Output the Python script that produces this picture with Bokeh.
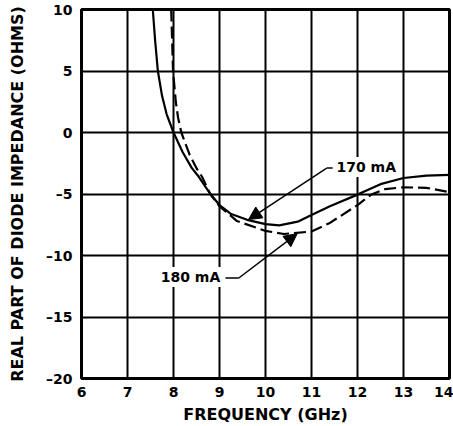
from bokeh.plotting import figure
from bokeh.models import Arrow, NormalHead, Label, FixedTicker, Title
from bokeh.embed import file_html
from bokeh.resources import INLINE

# Data
freq_170 = [7.55, 7.60, 7.66, 7.75, 7.85, 8.00, 8.20, 8.40, 8.55, 8.80, 9.00, 9.24, 9.60, 10.00, 10.30, 10.70, 11.00, 11.40, 12.00, 12.50, 13.00, 13.50, 14.00]
ohm_170 = [10.0, 7.5, 5.0, 3.0, 1.5, 0.0, -1.6, -2.9, -3.6, -5.0, -5.9, -6.6, -7.1, -7.45, -7.55, -7.25, -6.7, -6.0, -5.05, -4.2, -3.7, -3.5, -3.45]

freq_180 = [7.95, 7.97, 7.99, 8.05, 8.10, 8.17, 8.35, 8.50, 8.62, 8.80, 9.00, 9.38, 10.00, 10.40, 11.00, 11.40, 12.00, 12.30, 12.60, 13.00, 13.50, 14.00]
ohm_180 = [10.0, 7.5, 5.0, 2.5, 1.2, 0.0, -1.8, -2.9, -3.6, -5.0, -6.0, -7.2, -8.0, -8.25, -8.05, -7.35, -5.9, -5.05, -4.6, -4.45, -4.5, -4.85]

x_ticks = [6, 7, 8, 9, 10, 11, 12, 13, 14]
y_ticks = [10, 5, 0, -5, -10, -15, -20]
y_tick_labels = {10: "10", 5: "5", 0: "0", -5: "–5", -10: "–10", -15: "–15", -20: "–20"}

x_title = "FREQUENCY (GHz)"
y_title = "REAL PART OF DIODE IMPEDANCE (OHMS)"

FONT = "DejaVu Sans"

p = figure(width=453, height=426, x_range=(6, 14), y_range=(-20, 10),
           output_backend="svg", toolbar_location=None,
           min_border_left=0, min_border_right=4, min_border_top=9, min_border_bottom=0)

p.background_fill_color = "white"
p.border_fill_color = "white"
p.outline_line_color = "black"
p.outline_line_width = 3

p.xaxis.ticker = FixedTicker(ticks=x_ticks)
p.yaxis.ticker = FixedTicker(ticks=y_ticks)
p.yaxis.major_label_overrides = y_tick_labels

for ax in (p.xaxis, p.yaxis):
    ax.axis_line_color = None
    ax.major_tick_line_color = None
    ax.minor_tick_line_color = None
    ax.major_tick_out = 0
    ax.major_tick_in = 0
    ax.major_label_text_font = FONT
    ax.major_label_text_font_style = "bold"
    ax.major_label_text_font_size = "14px"
    ax.major_label_text_color = "black"
    ax.axis_label_text_font = FONT
    ax.axis_label_text_font_style = "bold"
    ax.axis_label_text_font_size = "16px"
    ax.axis_label_text_color = "black"

p.xaxis.axis_label = x_title
p.yaxis.axis_label = y_title
p.xaxis.major_label_standoff = 8
p.yaxis.major_label_standoff = 9
p.xaxis.axis_label_standoff = 5
p.yaxis.axis_label_standoff = 16

# small blank spacer outside the y title
p.add_layout(Title(text=" ", text_font_size="3px", standoff=0), "left")

for g in (p.xgrid, p.ygrid):
    g.grid_line_color = "black"
    g.grid_line_width = 2
    g.grid_line_alpha = 1.0
p.xgrid.ticker = FixedTicker(ticks=x_ticks)
p.ygrid.ticker = FixedTicker(ticks=y_ticks)

# curves
p.line(freq_170, ohm_170, line_color="black", line_width=2.2)
p.line(freq_180, ohm_180, line_color="black", line_width=2.2, line_dash="12 5")

# annotations
p.segment(x0=[11.33], y0=[-2.89], x1=[11.46], y1=[-2.89], line_color="black", line_width=1.5)
p.add_layout(Arrow(end=NormalHead(size=13, fill_color="black", line_color="black"),
                   x_start=11.33, y_start=-2.89, x_end=9.63, y_end=-7.08,
                   line_color="black", line_width=1.5))
p.segment(x0=[9.13], y0=[-11.83], x1=[9.42], y1=[-11.83], line_color="black", line_width=1.5)
p.add_layout(Arrow(end=NormalHead(size=13, fill_color="black", line_color="black"),
                   x_start=9.42, y_start=-11.83, x_end=10.69, y_end=-8.22,
                   line_color="black", line_width=1.5))

p.add_layout(Label(x=11.50, y=-2.8, text="170 mA", text_font=FONT, text_font_style="bold",
                   text_font_size="14px", text_color="black", text_baseline="middle",
                   text_align="left", background_fill_color="white",
                   padding=2))
p.add_layout(Label(x=9.06, y=-11.75, text="180 mA", text_font=FONT, text_font_style="bold",
                   text_font_size="14px", text_color="black", text_baseline="middle",
                   text_align="right", background_fill_color="white",
                   padding=2))

open("out.html", "w").write(file_html(p, INLINE))
